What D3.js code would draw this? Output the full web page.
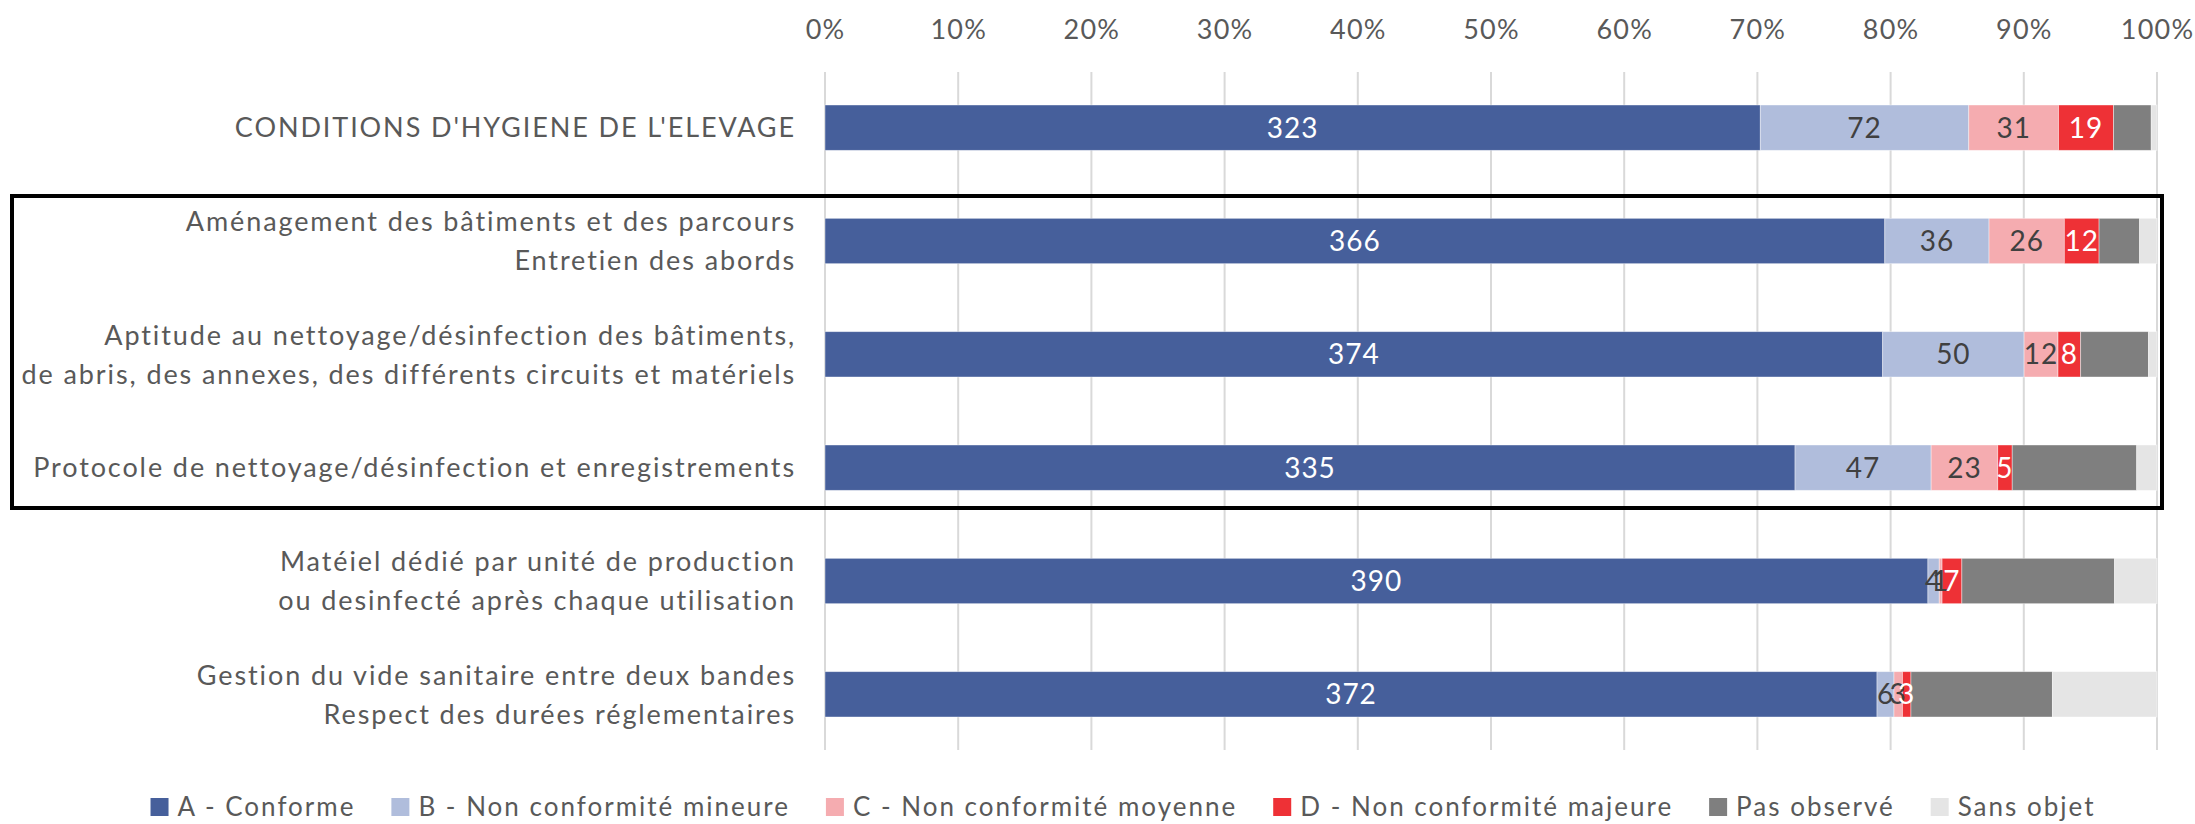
<!DOCTYPE html>
<html>
<head>
<meta charset="utf-8">
<script src="https://cdn.jsdelivr.net/npm/d3@7"></script>
<style>
  body { margin: 0; background: #fff; }
  text { font-family: Lato, "Noto Sans", sans-serif; fill: #595959; }
</style>
</head>
<body>
<svg id="chart" width="2195" height="824"></svg>
<script>
const categories = [
  ["CONDITIONS D'HYGIENE DE L'ELEVAGE"],
  ["Aménagement des bâtiments et des parcours", "Entretien des abords"],
  ["Aptitude au nettoyage/désinfection des bâtiments,", "de abris, des annexes, des différents circuits et matériels"],
  ["Protocole de nettoyage/désinfection et enregistrements"],
  ["Matéiel dédié par unité de production", "ou desinfecté après chaque utilisation"],
  ["Gestion du vide sanitaire entre deux bandes", "Respect des durées réglementaires"]
]

const seriesNames = [
  "A - Conforme",
  "B - Non conformité mineure",
  "C - Non conformité moyenne",
  "D - Non conformité majeure",
  "Pas observé",
  "Sans objet"
]
const seriesColors = ["#465f9b", "#b0bddc", "#f5acb0", "#ee3136", "#7f7f7f", "#e5e5e5"]
const labelColors = ["#ffffff", "#404040", "#404040", "#ffffff", null, null]

const conforme = [323, 366, 374, 335, 390, 372]
const mineure = [72, 36, 50, 47, 4, 6]
const moyenne = [31, 26, 12, 23, 1, 3]
const majeure = [19, 12, 8, 5, 7, 3]
const pasObserve = [13, 14, 24, 43, 54, 50]
const sansObjet = [2, 6, 3, 7, 15, 37]

const tickValues = [0, 0.1, 0.2, 0.3, 0.4, 0.5, 0.6, 0.7, 0.8, 0.9, 1]

const series = [conforme, mineure, moyenne, majeure, pasObserve, sansObjet]

const svg = d3.select("#chart")

const x = d3.scaleLinear().domain([0, 1]).range([825, 2157])
const y = d3.scaleBand()
  .domain(d3.range(categories.length))
  .range([71, 751])
  .paddingInner(0.6)
  .paddingOuter(0.3)

// gridlines
svg.append("g")
  .selectAll("line")
  .data(tickValues)
  .join("line")
  .attr("x1", (d) => x(d))
  .attr("x2", (d) => x(d))
  .attr("y1", 72)
  .attr("y2", 750)
  .attr("stroke", "#d9d9d9")
  .attr("stroke-width", 2)

// top axis labels
const xAxis = d3.axisTop(x)
  .tickValues(tickValues)
  .tickFormat(d3.format(".0%"))
  .tickSize(0)
  .tickPadding(0)

const axisG = svg.append("g")
  .attr("transform", "translate(0, 39)")
  .call(xAxis)
axisG.select(".domain").remove()
axisG.selectAll("text")
  .attr("font-size", 27)
  .attr("font-family", "Lato, 'Noto Sans', sans-serif")
  .attr("letter-spacing", 1.2)
  .style("fill", "#595959")

// stacked rows
const rows = categories.map((c, i) => {
  const vals = series.map((s) => s[i])
  const total = d3.sum(vals)
  let acc = 0
  const segs = vals.map((v, k) => {
    const seg = { k, v, x0: acc / total, x1: (acc + v) / total }
    acc += v
    return seg
  })
  return { i, segs }
})

const rowG = svg.append("g")
  .selectAll("g")
  .data(rows)
  .join("g")
  .attr("transform", (d) => `translate(0, ${y(d.i)})`)

rowG.selectAll("rect")
  .data((d) => d.segs)
  .join("rect")
  .attr("x", (d) => x(d.x0))
  .attr("width", (d) => x(d.x1) - x(d.x0))
  .attr("y", 0)
  .attr("height", y.bandwidth())
  .attr("fill", (d) => seriesColors[d.k])
  .attr("stroke", "#ffffff")
  .attr("stroke-opacity", 0.5)
  .attr("stroke-width", 0.8)

rowG.selectAll("text.val")
  .data((d) => d.segs.filter((s) => labelColors[s.k] && s.v > 0))
  .join("text")
  .attr("class", "val")
  .attr("x", (d) => (x(d.x0) + x(d.x1)) / 2)
  .attr("y", y.bandwidth() / 2)
  .attr("dy", "0.36em")
  .attr("text-anchor", "middle")
  .attr("font-size", 28)
  .attr("letter-spacing", 1)
  .style("fill", (d) => labelColors[d.k])
  .text((d) => d.v)

// category labels
const lineH = 39
svg.append("g")
  .selectAll("text")
  .data(categories)
  .join("text")
  .attr("text-anchor", "end")
  .attr("font-size", 27)
  .attr("letter-spacing", 1.9)
  .attr("y", (d, i) => y(i) + y.bandwidth() / 2 - (d.length - 1) * lineH / 2)
  .each(function (d) {
    d3.select(this).selectAll("tspan")
      .data(d)
      .join("tspan")
      .attr("x", 796)
      .attr("dy", (t, j) => j === 0 ? "0.36em" : lineH)
      .text((t) => t)
  })

// highlight box
svg.append("rect")
  .attr("x", 12)
  .attr("y", 196)
  .attr("width", 2150)
  .attr("height", 312)
  .attr("fill", "none")
  .attr("stroke", "#000")
  .attr("stroke-width", 4)

// legend
const legend = svg.append("g")
const items = legend.selectAll("g")
  .data(seriesNames)
  .join("g")
items.append("rect")
  .attr("width", 18)
  .attr("height", 18)
  .attr("y", -9)
  .attr("fill", (d, i) => seriesColors[i])
items.append("text")
  .attr("x", 27)
  .attr("dy", "0.36em")
  .attr("font-size", 26)
  .attr("letter-spacing", 2)
  .text((d) => d)

let lx = 0
items.each(function () {
  const w = this.querySelector("text").getComputedTextLength()
  d3.select(this).attr("transform", `translate(${lx}, 0)`)
  lx += 27 + w + 36
})
const legendWidth = lx - 36
legend.attr("transform", `translate(${1123 - legendWidth / 2}, 807)`)
</script>
</body>
</html>
